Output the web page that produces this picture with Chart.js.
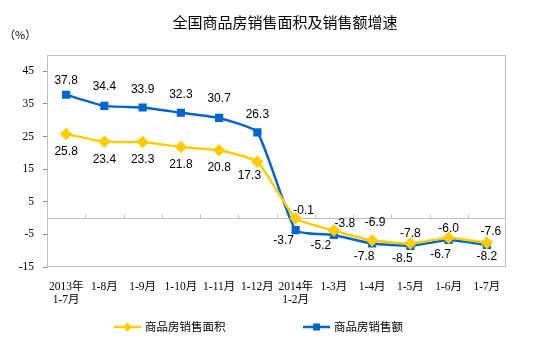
<!DOCTYPE html>
<html>
<head>
<meta charset="utf-8">
<script src="https://cdn.jsdelivr.net/npm/chart.js@4"></script>
<style>
  body { margin: 0; background: #fff; }
  #wrap { width: 543px; height: 343px; }
</style>
</head>
<body>
<div id="wrap"><canvas id="salesChart" width="543" height="343"></canvas></div>
<script>
// months on the category axis (two-line labels for year starts)
const months = [['2013年', '1-7月'], '1-8月', '1-9月', '1-10月', '1-11月', '1-12月',
  ['2014年', '1-2月'], '1-3月', '1-4月', '1-5月', '1-6月', '1-7月'];

// cumulative year-on-year growth, %
const areaGrowth = [25.8, 23.4, 23.3, 21.8, 20.8, 17.3, -0.1, -3.8, -6.9, -7.8, -6.0, -7.6];
const valueGrowth = [37.8, 34.4, 33.9, 32.3, 30.7, 26.3, -3.7, -5.2, -7.8, -8.5, -6.7, -8.2];

const yTicks = [-15, -5, 5, 15, 25, 35, 45];

const YELLOW = '#FFCC00';
const BLUE = '#0066CC';
const GRAY = '#BFBFBF';
const CJK = '"Noto Sans CJK SC", "Liberation Sans", sans-serif';

// where each value label sits relative to its point [dx, dy]
const labelShift = [
  [[0, 18], [0, 18], [0, 18], [0, 18], [0, 17], [-8, 14],
   [8, -8], [11, -7], [3, -18], [0, -10], [0, -9], [4, -11]],
  [[0, -14], [0, -19], [0, -18], [0, -18], [0, -19], [0, -18],
   [-12, 11], [-13, 11], [-8, 13], [-8, 13], [-8, 15], [0, 12]]
];

// plot frame, zero line and the small category ticks sitting on it
const framePlugin = {
  id: 'frame',
  beforeDatasetsDraw(chart) {
    const { ctx, chartArea: a, scales: { x, y } } = chart;
    ctx.save();
    ctx.strokeStyle = GRAY;
    ctx.lineWidth = 1;
    ctx.strokeRect(a.left + 0.5, a.top + 0.5, a.right - a.left - 1, a.bottom - a.top - 1);
    const y0 = Math.round(y.getPixelForValue(0)) + 0.5;
    ctx.beginPath();
    ctx.moveTo(a.left, y0);
    ctx.lineTo(a.right, y0);
    for (let i = 1; i < months.length; i++) {
      const tx = Math.round((x.getPixelForValue(i - 1) + x.getPixelForValue(i)) / 2) + 0.5;
      ctx.moveTo(tx, y0);
      ctx.lineTo(tx, y0 - 4);
    }
    ctx.stroke();
    ctx.restore();
  }
};

// value labels next to every point
const valueLabels = {
  id: 'valueLabels',
  afterDatasetsDraw(chart) {
    const { ctx } = chart;
    ctx.save();
    ctx.font = '12px "Liberation Sans", Arial, sans-serif';
    ctx.fillStyle = '#000';
    ctx.textAlign = 'center';
    ctx.textBaseline = 'middle';
    chart.data.datasets.forEach((ds, di) => {
      chart.getDatasetMeta(di).data.forEach((pt, i) => {
        const [dx, dy] = labelShift[di][i];
        ctx.fillText(ds.data[i].toFixed(1), pt.x + dx, pt.y + dy);
      });
    });
    ctx.restore();
  }
};

// title, unit note and the legend underneath
const decorations = {
  id: 'decorations',
  afterDraw(chart) {
    const { ctx } = chart;
    ctx.save();
    ctx.fillStyle = '#000';
    ctx.textBaseline = 'middle';
    ctx.textAlign = 'center';
    ctx.font = '15px ' + CJK;
    ctx.fillText('全国商品房销售面积及销售额增速', 285, 22);
    ctx.textAlign = 'left';
    ctx.font = '11px ' + CJK;
    ctx.fillText('（%）', 4, 35);

    const items = [[0, 114], [1, 303]];
    items.forEach(([di, lx]) => {
      const ds = chart.data.datasets[di];
      const ly = 327;
      ctx.strokeStyle = ds.borderColor;
      ctx.lineWidth = 2.5;
      ctx.beginPath();
      ctx.moveTo(lx, ly);
      ctx.lineTo(lx + 27, ly);
      ctx.stroke();
      ctx.fillStyle = ds.borderColor;
      const cx = lx + 13.5;
      if (ds.pointStyle === 'rectRot') {
        ctx.beginPath();
        ctx.moveTo(cx, ly - 4.5);
        ctx.lineTo(cx + 4.5, ly);
        ctx.lineTo(cx, ly + 4.5);
        ctx.lineTo(cx - 4.5, ly);
        ctx.closePath();
        ctx.fill();
      } else {
        ctx.fillRect(cx - 3.5, ly - 3.5, 7, 7);
      }
      ctx.fillStyle = '#000';
      ctx.font = '11.5px ' + CJK;
      ctx.fillText(ds.label, lx + 31, ly);
    });
    ctx.restore();
  }
};

new Chart(document.getElementById('salesChart'), {
  type: 'line',
  data: {
    labels: months,
    datasets: [{
      label: '商品房销售面积',
      data: areaGrowth,
      borderColor: YELLOW,
      backgroundColor: YELLOW,
      borderWidth: 2.5,
      pointStyle: 'rectRot',
      pointRadius: 4.5,
      tension: 0.15
    }, {
      label: '商品房销售额',
      data: valueGrowth,
      borderColor: BLUE,
      backgroundColor: BLUE,
      borderWidth: 2.5,
      pointStyle: 'rect',
      pointRadius: 4,
      tension: 0.15
    }]
  },
  options: {
    responsive: false,
    animation: false,
    layout: { padding: { top: 55, right: 37, left: 0, bottom: 0 } },
    plugins: {
      legend: { display: false },
      title: { display: false },
      tooltip: { enabled: false }
    },
    scales: {
      x: {
        offset: true,
        grid: { display: false },
        border: { display: false },
        ticks: {
          autoSkip: false,
          maxRotation: 0,
          padding: 5,
          color: '#000',
          font: { family: '"Liberation Serif", "Noto Sans CJK SC", serif', size: 11.5, lineHeight: 1.15 }
        },
        afterFit(axis) { axis.height = 76; }
      },
      y: {
        min: -15,
        max: 50,
        afterBuildTicks(axis) { axis.ticks = yTicks.map(v => ({ value: v })); },
        grid: { drawOnChartArea: false, drawTicks: true, tickLength: 4, color: '#868686' },
        border: { display: true, color: GRAY },
        ticks: {
          padding: 9,
          color: '#000',
          font: { family: '"Liberation Serif", serif', size: 11.5 }
        },
        afterFit(axis) { axis.width = 47; }
      }
    }
  },
  plugins: [framePlugin, valueLabels, decorations]
});
</script>
</body>
</html>
